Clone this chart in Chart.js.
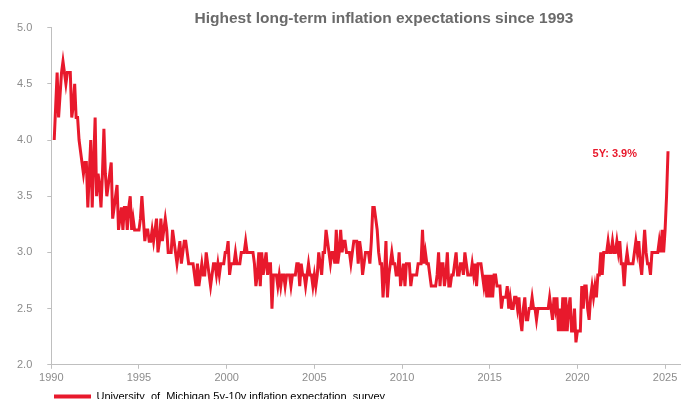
<!DOCTYPE html>
<html>
<head>
<meta charset="utf-8">
<script src="https://cdn.jsdelivr.net/npm/chart.js@4.4.1/dist/chart.umd.min.js"></script>
<style>
  html, body { margin: 0; padding: 0; background: #fff; overflow: hidden; }
  #wrap { width: 683px; height: 419px; }
</style>
</head>
<body>
<div id="wrap"><canvas id="chart"></canvas></div>
<script>
const chartTitle = 'Highest long-term inflation expectations since 1993';
const seriesName = 'University  of  Michigan 5y-10y inflation expectation  survey';
const endLabel = '5Y: 3.9%';

// monthly readings, first one is March 1990
const startYear = 1990;
const startMonth = 3;

const v1990s = [
  4.0, 4.3, 4.6, 4.2, 4.4, 4.6, 4.7, 4.6, 4.5, 4.6,
  4.6, 4.6, 4.2, 4.3, 4.5, 4.2, 4.2, 4.0, 3.9, 3.8, 3.7, 3.8,
  3.8, 3.4, 3.7, 4.0, 3.4, 3.8, 4.2, 3.5, 3.7, 3.6, 3.4, 3.7,
  4.1, 3.7, 3.5, 3.6, 3.7, 3.8, 3.3, 3.4, 3.5, 3.6, 3.2, 3.3,
  3.4, 3.2, 3.4, 3.4, 3.2, 3.4, 3.5, 3.2, 3.3, 3.2, 3.2, 3.2,
  3.2, 3.3, 3.5, 3.3, 3.1, 3.2, 3.2, 3.1, 3.1, 3.2, 3.1, 3.2,
  3.3, 3.0, 3.1, 3.3, 3.1, 3.2, 3.3, 3.2, 3.0, 3.0, 3.0, 3.2,
  3.1, 3.0, 2.9, 3.0, 3.1, 2.9, 3.0, 3.1, 3.1, 3.0, 2.9, 2.9,
  2.9, 2.9, 2.8, 2.7, 2.9, 2.7, 2.8, 2.9, 2.8, 2.8, 3.0, 2.9,
  2.8, 2.7, 2.8, 2.9, 2.9, 2.8, 2.9, 2.8, 2.9, 2.9, 2.9, 3.0
];
const v2000s = [
  3.0, 3.1, 2.8, 2.9, 2.9, 2.9, 3.0, 2.9, 2.9, 2.9, 3.0, 3.0,
  3.0, 3.1, 3.0, 3.0, 3.0, 3.0, 3.0, 2.9, 2.7, 2.8, 3.0, 2.7,
  3.0, 2.8, 2.9, 3.0, 2.8, 2.9, 2.9, 2.5, 2.8, 2.8, 2.8, 2.7,
  2.8, 2.7, 2.8, 2.8, 2.7, 2.8, 2.8, 2.8, 2.7, 2.8, 2.8, 2.8,
  2.9, 2.9, 2.7, 2.9, 2.8, 2.8, 2.7, 2.8, 2.9, 2.8, 2.8, 2.7,
  2.8, 2.7, 2.8, 3.0, 2.9, 2.8, 3.0, 3.0, 3.2, 3.1, 3.0, 2.9,
  3.0, 3.0, 2.9, 3.2, 2.9, 3.0, 3.2, 3.0, 3.1, 3.1, 3.0, 3.0,
  3.0, 2.9, 3.0, 3.1, 3.1, 3.1, 2.9, 3.1, 3.0, 2.8, 2.9, 3.0,
  3.0, 3.0, 2.9, 3.1, 3.4, 3.4, 3.3, 3.2, 3.0, 2.9, 2.9, 2.6,
  2.8, 3.1, 2.6, 2.8, 2.9, 3.0, 2.9, 2.9, 2.8, 2.8, 3.0, 2.7
];
const v2010s = [
  2.8, 2.9, 2.7, 2.9, 2.9, 2.9, 2.7, 2.8, 2.8, 2.8, 2.8, 2.9,
  2.9, 2.9, 3.2, 2.9, 3.0, 2.9, 2.9, 2.8, 2.7, 2.7, 2.7, 2.7,
  2.8, 3.0, 2.7, 2.9, 2.9, 2.7, 2.8, 3.0, 2.7, 2.7, 2.8, 2.8,
  2.9, 3.0, 2.8, 2.8, 2.9, 2.9, 2.8, 3.0, 2.9, 2.8, 2.8, 2.8,
  2.9, 2.8, 2.9, 2.7, 2.9, 2.9, 2.9, 2.8, 2.7, 2.8, 2.6, 2.8,
  2.6, 2.8, 2.6, 2.8, 2.8, 2.7, 2.7, 2.7, 2.5, 2.6, 2.6, 2.6,
  2.7, 2.5, 2.6, 2.5, 2.5, 2.6, 2.6, 2.5, 2.6, 2.4, 2.3, 2.5,
  2.6, 2.4, 2.4, 2.5, 2.5, 2.6, 2.5, 2.5, 2.4, 2.5, 2.5, 2.5,
  2.5, 2.5, 2.5, 2.5, 2.5, 2.6, 2.5, 2.4, 2.6, 2.5, 2.6, 2.3,
  2.5, 2.3, 2.6, 2.3, 2.6, 2.3, 2.5, 2.6, 2.3, 2.3, 2.5, 2.2
];
const v2020s = [
  2.3, 2.3, 2.3, 2.7, 2.5, 2.7, 2.7, 2.5, 2.4, 2.6, 2.7, 2.6,
  2.7, 2.6, 2.8, 2.8, 3.0, 2.8, 3.0, 3.0, 3.0, 3.1, 3.0, 3.0,
  3.1, 3.0, 3.0, 3.1, 3.0, 3.1, 2.9, 2.9, 2.7, 2.9, 3.0, 2.9,
  2.9, 2.9, 2.9, 3.0, 3.1, 3.0, 3.1, 2.9, 2.8, 3.0, 3.2, 3.0,
  2.9, 2.9, 2.8, 3.0, 3.0, 3.0, 3.0, 3.0, 3.1, 3.0, 3.2, 3.0,
  3.2, 3.5, 3.9
];

const xTicks = [1990, 1995, 2000, 2005, 2010, 2015, 2020, 2025];
const yTicks = [2.0, 2.5, 3.0, 3.5, 4.0, 4.5, 5.0];

const values = v1990s.concat(v2000s, v2010s, v2020s);
const points = values.map((v, i) => ({ x: startYear + (startMonth - 1 + i) / 12, y: v }));

const red = '#E8192C';
const axisGrey = '#bfbfbf';
const labelGrey = '#8c8c8c';

// nudge title / legend into place and write the end label
const extras = {
  id: 'extras',
  afterLayout(chart) {
    const t = chart.titleBlock;
    const shift = 384 - (t.left + t.right) / 2;
    t.left += shift;
    t.right += shift;
    const lg = chart.legend;
    lg.left += 54 - (lg.left + 10);
    lg.top -= 7;
    lg.bottom -= 7;
  },
  afterDatasetsDraw(chart) {
    const meta = chart.getDatasetMeta(0);
    const last = meta.data[meta.data.length - 1];
    const ctx = chart.ctx;
    ctx.save();
    ctx.font = 'bold 11px "Liberation Sans", Arial, sans-serif';
    ctx.fillStyle = red;
    ctx.textAlign = 'right';
    ctx.textBaseline = 'middle';
    ctx.fillText(endLabel, last.x - 31, last.y + 3);
    ctx.restore();
  }
};

new Chart(document.getElementById('chart'), {
  type: 'line',
  data: {
    datasets: [{
      label: seriesName,
      data: points,
      borderColor: red,
      backgroundColor: red,
      borderWidth: 3,
      pointRadius: 0,
      tension: 0,
      fill: false
    }]
  },
  options: {
    responsive: true,
    maintainAspectRatio: false,
    animation: false,
    layout: { padding: { left: 2, right: 3, top: 0, bottom: 0 } },
    plugins: {
      title: {
        display: true,
        text: chartTitle,
        color: '#6a6a6a',
        font: { family: '"Liberation Sans", Arial, sans-serif', size: 15.5, weight: 'bold' },
        padding: { top: 9, bottom: 0 }
      },
      legend: {
        display: true,
        position: 'bottom',
        align: 'start',
        labels: {
          boxWidth: 37,
          boxHeight: 4,
          padding: 10,
          color: '#7a7a7a',
          font: { family: '"Liberation Sans", Arial, sans-serif', size: 11 },
          generateLabels: () => [{
            text: seriesName, fillStyle: red, strokeStyle: red, lineWidth: 0,
            hidden: false, datasetIndex: 0
          }]
        }
      },
      tooltip: { enabled: false }
    },
    scales: {
      x: {
        type: 'linear',
        min: 1990,
        max: 2025.85,
        afterBuildTicks: (scale) => { scale.ticks = xTicks.map(v => ({ value: v })); },
        ticks: {
          color: labelGrey,
          font: { family: '"Liberation Sans", Arial, sans-serif', size: 11 },
          padding: 3,
          maxRotation: 0,
          autoSkip: false,
          callback: (v) => String(v)
        },
        grid: { drawOnChartArea: false, drawTicks: true, tickLength: 4, color: axisGrey },
        border: { display: true, color: axisGrey, width: 1 }
      },
      y: {
        min: 2,
        max: 5,
        afterBuildTicks: (scale) => { scale.ticks = yTicks.map(v => ({ value: v })); },
        ticks: {
          color: labelGrey,
          font: { family: '"Liberation Sans", Arial, sans-serif', size: 11 },
          padding: 15,
          callback: (v) => Number(v).toFixed(1)
        },
        grid: { drawOnChartArea: false, drawTicks: true, tickLength: 4, color: axisGrey },
        border: { display: true, color: axisGrey, width: 1 }
      }
    }
  },
  plugins: [extras]
});
</script>
</body>
</html>
